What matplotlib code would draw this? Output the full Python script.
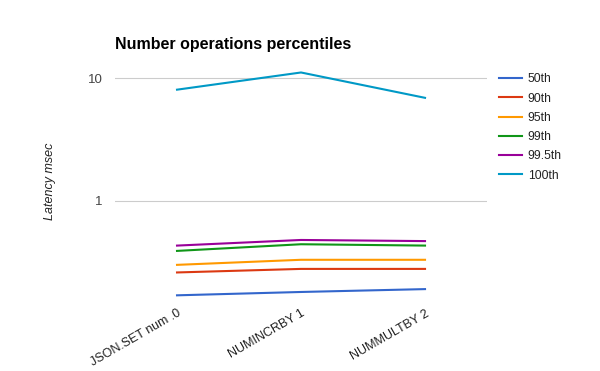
import matplotlib
matplotlib.use("Agg")
import matplotlib.pyplot as plt
from matplotlib.ticker import FixedLocator, NullLocator, FixedFormatter

plt.rcParams['font.family'] = ['Liberation Sans', 'DejaVu Sans']

categories = ["JSON.SET num .0", "NUMINCRBY 1", "NUMMULTBY 2"]
series_names = ["50th", "90th", "95th", "99th", "99.5th", "100th"]
p50 = [0.170, 0.181, 0.191]
p90 = [0.261, 0.279, 0.279]
p95 = [0.301, 0.331, 0.331]
p99 = [0.391, 0.443, 0.432]
p995 = [0.432, 0.480, 0.470]
p100 = [8.04, 11.1, 6.9]
colors = ["#3366cc", "#dc3912", "#ff9900", "#109618", "#990099", "#0099c6"]

fig = plt.figure(figsize=(6, 3.71), dpi=100)
ax = fig.add_axes([0.1917, 0.186, 0.62, 0.652])

x = range(len(categories))
for vals, name, c in zip([p50, p90, p95, p99, p995, p100], series_names, colors):
    ax.plot(x, vals, color=c, lw=1.5, label=name)

ax.set_yscale("log")
ax.set_ylim(0.15, 14)
ax.set_xlim(-0.5, 2.5)
ax.yaxis.set_major_locator(FixedLocator([1, 10]))
ax.yaxis.set_major_formatter(FixedFormatter(["1", "10"]))
ax.yaxis.set_minor_locator(NullLocator())
ax.grid(axis="y", color="#cccccc", lw=0.8)
ax.set_axisbelow(True)
for s in ax.spines.values():
    s.set_visible(False)
ax.tick_params(axis="both", length=0)
ax.tick_params(axis="y", labelsize=9.5, labelcolor="#444444", pad=9)
ax.set_xticks(list(x))
ax.set_xticklabels(categories, rotation=30, ha="right", rotation_mode="anchor",
                   fontsize=9, color="#222222")
ax.tick_params(axis="x", pad=4)

ax.set_ylabel("Latency msec", style="italic", fontsize=9, color="#222222", labelpad=23)
fig.text(0.1917, 0.88, "Number operations percentiles", fontsize=11.5, fontweight="bold",
         va="center", ha="left")

fig.legend(loc="upper left", bbox_to_anchor=(0.824, 0.815), frameon=False,
           fontsize=8.7, handlelength=1.9, handletextpad=0.45, labelspacing=0.6,
           labelcolor="#222222", borderaxespad=0)

fig.savefig("out.png", dpi=100)
